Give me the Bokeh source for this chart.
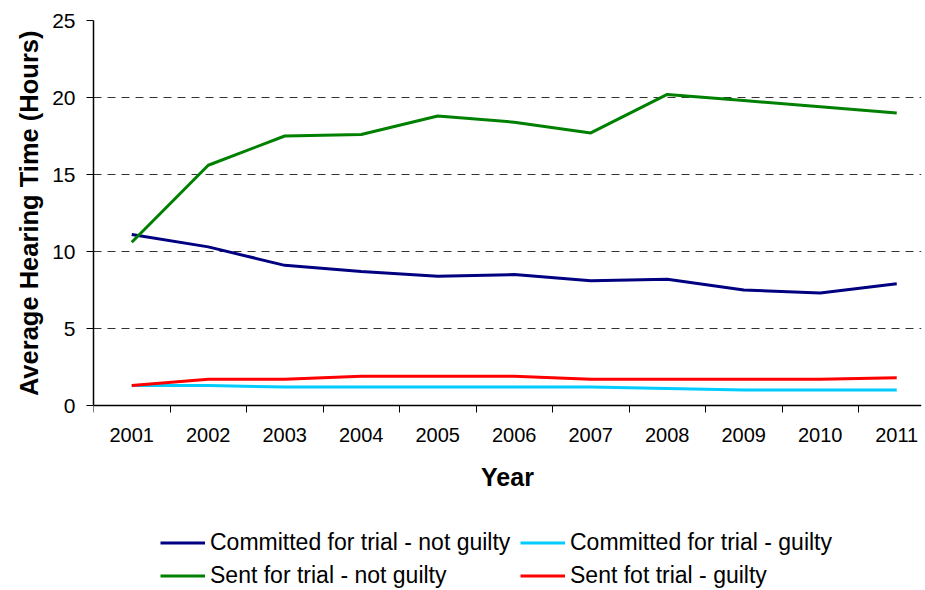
from bokeh.plotting import figure
from bokeh.models import FixedTicker, Range1d, Legend, LegendItem, Title
from bokeh.embed import file_html
from bokeh.resources import INLINE

years = ["2001", "2002", "2003", "2004", "2005", "2006", "2007", "2008", "2009", "2010", "2011"]
committed_not_guilty = [11.1, 10.3, 9.1, 8.7, 8.4, 8.5, 8.1, 8.2, 7.5, 7.3, 7.9]
committed_guilty = [1.3, 1.3, 1.2, 1.2, 1.2, 1.2, 1.2, 1.1, 1.0, 1.0, 1.0]
sent_not_guilty = [10.6, 15.6, 17.5, 17.6, 18.8, 18.4, 17.7, 20.2, 19.8, 19.4, 19.0]
sent_guilty = [1.3, 1.7, 1.7, 1.9, 1.9, 1.9, 1.7, 1.7, 1.7, 1.7, 1.8]
y_ticks = [0, 5, 10, 15, 20, 25]

series_names = ["Committed for trial - not guilty", "Committed for trial - guilty",
                "Sent for trial - not guilty", "Sent fot trial - guilty"]
series_values = [committed_not_guilty, committed_guilty, sent_not_guilty, sent_guilty]
series_colors = ["#000080", "#00CCFF", "#008000", "#FF0000"]

left, top, right = 93, 20, 4
FW = 828
px_per_cat = 76.5
px_per_unit = 385 / 25.0
FH = 570
y_min = 25 - FH / px_per_unit
x_end = -0.5 + FW / px_per_cat

p = figure(frame_width=FW, frame_height=FH, output_backend="svg", toolbar_location=None,
           x_range=Range1d(-0.5, x_end), y_range=Range1d(y_min, 25),
           min_border_left=left, min_border_top=top, min_border_right=right,
           min_border_bottom=0)
p.outline_line_color = None
p.background_fill_color = "white"
p.border_fill_color = "white"

xs = list(range(len(years)))
renderers = []
for vals, col in zip(series_values, series_colors):
    r = p.line(xs, vals, line_color=col, line_width=3)
    renderers.append(r)

# x axis (drawn at y = 0)
xa = p.xaxis[0]
xa.fixed_location = 0
xa.ticker = FixedTicker(ticks=xs, minor_ticks=[i - 0.5 for i in range(len(years) + 1)])
xa.major_label_overrides = {i: y for i, y in enumerate(years)}
xa.major_tick_out = 0
xa.major_tick_in = 0
xa.minor_tick_out = 7
xa.minor_tick_in = 0
xa.minor_tick_line_color = "black"
xa.axis_line_color = "black"
xa.axis_line_width = 1.5
xa.major_label_text_font = "Liberation Sans"
xa.major_label_text_font_size = "20px"
xa.major_label_text_color = "black"
xa.major_label_standoff = 15
xa.axis_label = "Year"
xa.axis_label_text_font = "Liberation Sans"
xa.axis_label_text_font_style = "bold"
xa.axis_label_text_font_size = "25px"
xa.axis_label_text_color = "black"
xa.axis_label_standoff = 18

# y axis
ya = p.yaxis[0]
ya.bounds = (0, 25)
ya.ticker = FixedTicker(ticks=y_ticks, minor_ticks=[])
ya.major_tick_out = 7
ya.major_tick_in = 0
ya.major_tick_line_color = "black"
ya.axis_line_color = "black"
ya.axis_line_width = 1.5
ya.major_label_text_font = "Liberation Sans"
ya.major_label_text_font_size = "21px"
ya.major_label_text_color = "black"
ya.major_label_standoff = 11

# y axis title, placed along the 0-25 span of the axis
y_title = Title(text="Average Hearing Time (Hours)", align="right",
                offset=10, standoff=14,
                text_font="Liberation Sans", text_font_style="bold",
                text_font_size="25.5px", text_color="black")
p.add_layout(y_title, "left")

p.xgrid.grid_line_color = None
p.ygrid.ticker = FixedTicker(ticks=y_ticks[1:])
p.ygrid.grid_line_color = "#333333"
p.ygrid.grid_line_width = 1
p.ygrid.grid_line_dash = "8 6"

items = [LegendItem(label=n, renderers=[r]) for n, r in zip(series_names, renderers)]
legend = Legend(items=items, orientation="horizontal", ncols=2, nrows=2,
                location=(67, 1), padding=0, margin=0, spacing=6,
                glyph_width=45, glyph_height=23, label_height=23, label_standoff=5,
                label_width=304,
                label_text_font="Liberation Sans", label_text_font_size="23px",
                label_text_color="black", border_line_alpha=0,
                background_fill_alpha=0)
p.add_layout(legend, "center")

open("out.html", "w").write(file_html(p, INLINE))
